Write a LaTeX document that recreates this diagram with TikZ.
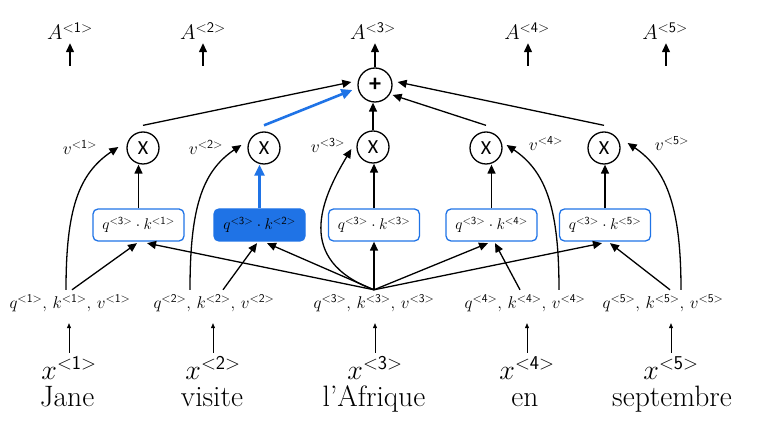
\RequirePackage{fix-cm}
\documentclass[tikz,border=0pt]{standalone}
\usepackage{amsmath}
\usepackage{fontspec}
\newfontfamily\calfont{Carlito}
\usetikzlibrary{arrows.meta}
\definecolor{ablue}{RGB}{31,115,230}
\newcommand\ang[1]{{<\mathsf{#1}>}}
\begin{document}
\begin{tikzpicture}[x=1pt,y=-1pt,
  arr/.style={line width=1.3pt,-{Triangle[length=9pt,width=8pt]}},
  barr/.style={draw=ablue,line width=2.6pt,-{Triangle[length=11pt,width=10pt]}},
  tarr/.style={line width=0.6pt,-{Triangle[length=5pt,width=4pt]}},
  mult/.style={circle,draw,line width=1.3pt,minimum size=32pt,inner sep=0pt,font=\calfont\fontsize{20}{20}\selectfont},
  kbox/.style={draw=ablue,line width=1.3pt,rounded corners=5pt,minimum width=91pt,minimum height=32pt,inner sep=0pt,font=\fontsize{15.5}{16}\selectfont},
  qkv/.style={anchor=base,inner sep=0pt,text height=19pt,text depth=5pt,font=\fontsize{17}{17}\selectfont},
  xl/.style={anchor=base,inner sep=0pt,text height=27pt,text depth=0pt,font=\fontsize{28}{30}\selectfont},
  wd/.style={anchor=base,inner sep=0pt,font=\fontsize{29.5}{32}\selectfont},
  vl/.style={anchor=base,inner sep=0pt,font=\fontsize{17.5}{18}\selectfont},
  al/.style={anchor=base,inner sep=0pt,text depth=0pt,font=\fontsize{21}{21}\selectfont},
]
\useasboundingbox (0,0) rectangle (761,435);

% words
\node[wd] (w1) at (67,407) {Jane};
\node[wd] (w2) at (212,407) {visite};
\node[wd] (w3) at (374,407) {l'Afrique};
\node[wd] (w4) at (525,407) {en};
\node[wd] (w5) at (672,407) {septembre};

% x labels
\node[xl] (x1) at (69,380) {$x^{\ang{1}}$};
\node[xl] (x2) at (213,380) {$x^{\ang{2}}$};
\node[xl] (x3) at (375,380) {$x^{\ang{3}}$};
\node[xl] (x4) at (527,380) {$x^{\ang{4}}$};
\node[xl] (x5) at (671,380) {$x^{\ang{5}}$};

% q,k,v labels
\node[qkv] (q1) at (70,309) {$q^{\ang{1}},\, k^{\ang{1}},\, v^{\ang{1}}$};
\node[qkv] (q2) at (214,309) {$q^{\ang{2}},\, k^{\ang{2}},\, v^{\ang{2}}$};
\node[qkv] (q3) at (374,309) {$q^{\ang{3}},\, k^{\ang{3}},\, v^{\ang{3}}$};
\node[qkv] (q4) at (525,309) {$q^{\ang{4}},\, k^{\ang{4}},\, v^{\ang{4}}$};
\node[qkv] (q5) at (663,309) {$q^{\ang{5}},\, k^{\ang{5}},\, v^{\ang{5}}$};

% boxes
\node[kbox] (b1) at (138.5,225) {$q^{\ang{3}}\cdot k^{\ang{1}}$};
\node[kbox,fill=ablue] (b2) at (259.5,225) {$q^{\ang{3}}\cdot k^{\ang{2}}$};
\node[kbox] (b3) at (374,225) {$q^{\ang{3}}\cdot k^{\ang{3}}$};
\node[kbox] (b4) at (491.5,225) {$q^{\ang{3}}\cdot k^{\ang{4}}$};
\node[kbox] (b5) at (605,225) {$q^{\ang{3}}\cdot k^{\ang{5}}$};

% multiply circles
\node[mult] (m1) at (143,148) {X};
\node[mult] (m2) at (264,148) {X};
\node[mult] (m3) at (373,147) {X};
\node[mult] (m4) at (486,148) {X};
\node[mult] (m5) at (604,148) {X};

% plus
\node[mult,minimum size=34pt,font=\calfont\bfseries\fontsize{24}{24}\selectfont] (P) at (375,85) {+};

% v labels
\node[vl] (v1) at (80,155) {$v^{\ang{1}}$};
\node[vl] (v2) at (206,155) {$v^{\ang{2}}$};
\node[vl] (v3) at (328,153) {$v^{\ang{3}}$};
\node[vl] (v4) at (546,151) {$v^{\ang{4}}$};
\node[vl] (v5) at (672,151) {$v^{\ang{5}}$};

% A labels
\node[al] (A1) at (70,40) {$A^{\ang{1}}$};
\node[al] (A2) at (203,40) {$A^{\ang{2}}$};
\node[al] (A3) at (373,40) {$A^{\ang{3}}$};
\node[al] (A4) at (527,40) {$A^{\ang{4}}$};
\node[al] (A5) at (665,40) {$A^{\ang{5}}$};

\coordinate (s1) at (70,66);
\coordinate (s2) at (203,66);
\coordinate (s4) at (528,66);
\coordinate (s5) at (666,66);

% thin arrows x -> qkv
\foreach \i in {1,...,5}{
  \draw[tarr,shorten >=9pt] (x\i.north) -- (x\i.north |- q\i.south);
}

% fan from q3
\draw[arr] (q3.north) -- ([xshift=8.5pt,yshift=-1.5pt]b1.south);
\draw[arr] (q3.north) -- ([xshift=7.5pt,yshift=-1.5pt]b2.south);
\draw[arr] (q3.north) -- (b3.south);
\draw[arr] (q3.north) -- ([xshift=-3.5pt,yshift=-1.5pt]b4.south);
\draw[arr] (q3.north) -- ([xshift=-3pt,yshift=-1.5pt]b5.south);

% own q -> box
\draw[arr] ([xshift=2pt]q1.north) -- ([xshift=-1.5pt,yshift=-1.5pt]b1.south);
\draw[arr] ([xshift=9pt]q2.north) -- ([xshift=-2.5pt,yshift=-1.5pt]b2.south);
\draw[arr] ([xshift=-5pt]q4.north) -- ([xshift=3.5pt,yshift=-1.5pt]b4.south);
\draw[arr] ([xshift=7pt]q5.north) -- ([xshift=5pt,yshift=-1.5pt]b5.south);

% v curves
\draw[arr] ([xshift=-4pt]q1.north) .. controls +(0,-80) and +(-40,27) .. ([xshift=-8pt,yshift=1pt]m1.west);
\draw[arr] ([xshift=-24pt]q2.north) .. controls +(0,-80) and +(-40,27) .. ([xshift=-6pt,yshift=3pt]m2.west);
\draw[arr] (q3.north) .. controls +(-80,-30) and +(-30,50) .. ([xshift=-5pt,yshift=-2pt]m3.west);
\draw[arr] ([xshift=34pt]q4.north) .. controls +(0,-80) and +(40,27) .. ([xshift=4pt,yshift=3pt]m4.east);
\draw[arr] ([xshift=18pt]q5.north) .. controls +(0,-80) and +(40,27) .. ([xshift=7pt,yshift=5pt]m5.east);

% box -> multiply
\draw[arr] (b1.north) -- (b1.north |- m1.south);
\draw[barr] (b2.north) -- (b2.north |- m2.south);
\draw[arr] (b3.north) -- (b3.north |- m3.south);
\draw[arr] (b4.north) -- (b4.north |- m4.south);
\draw[arr] (b5.north) -- (b5.north |- m5.south);

% multiply -> plus
\draw[arr] ([yshift=6pt]m1.north) -- ([xshift=-6pt,yshift=3pt]P.west);
\draw[barr] ([yshift=6pt]m2.north) -- ([xshift=-5pt,yshift=-5pt]P.west);
\draw[arr] (m3.north) -- (m3.north |- P.south);
\draw[arr] ([yshift=6pt]m4.north) -- ([yshift=-10pt]P.east);
\draw[arr] ([yshift=6pt]m5.north) -- ([xshift=5pt,yshift=3pt]P.east);

% outputs
\draw[arr,shorten >=3pt] (P.north) -- (P.north |- A3.south);
\draw[arr,shorten >=3pt] (s1) -- (s1 |- A1.south);
\draw[arr,shorten >=3pt] (s2) -- (s2 |- A2.south);
\draw[arr,shorten >=3pt] (s4) -- (s4 |- A4.south);
\draw[arr,shorten >=3pt] (s5) -- (s5 |- A5.south);
\end{tikzpicture}
\end{document}
